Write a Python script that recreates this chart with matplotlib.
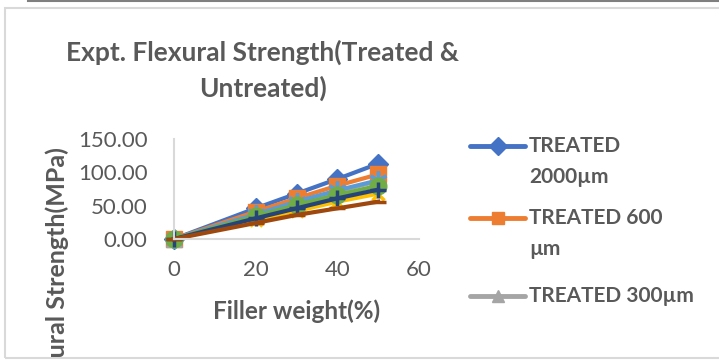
import matplotlib.pyplot as plt
from matplotlib.patches import Rectangle
from matplotlib.lines import Line2D

# data
filler = [0, 20, 30, 40, 50]
treated_2000 = [0, 46, 68, 90, 113]
treated_600 = [0, 41, 61, 80, 97]
treated_300 = [0, 36, 54, 71, 87]
series_4 = [0, 28, 42, 56, 68]
series_5 = [0, 37, 56, 73, 88]
series_6 = [0, 34, 51, 66, 80]
series_7 = [0, 31, 46, 61, 74]
series_8 = [0, 24, 36, 46, 56]
legend_labels = ["TREATED\n2000µm", "TREATED 600\nµm", "TREATED 300µm"]

plt.rcParams['font.family'] = ['Lato', 'DejaVu Sans']
grey_txt = '#595959'

fig = plt.figure(figsize=(7.19, 3.61), dpi=100)
# chart frame (cropped screenshot)
fig.patches.append(Rectangle((5/719, 3/361), 720/719, 350/361, transform=fig.transFigure,
                             fill=False, edgecolor='#d9d9d9', linewidth=1.5))
fig.add_artist(Line2D([28/719, 1], [360/361, 360/361], transform=fig.transFigure,
                      color='#7f7f7f', linewidth=1.5))

ax = fig.add_axes([174/719, 122/361, 245/719, 100/361])

styles = [
    (treated_2000, '#4472C4', 'D', 10),
    (treated_600, '#ED7D31', 's', 11),
    (treated_300, '#A5A5A5', '^', 11),
    (series_4, '#FFC000', 'x', 9),
    (series_5, '#5B9BD5', (6, 2, 0), 13),
    (series_6, '#70AD47', 'o', 12),
    (series_7, '#264478', '+', 12),
    (series_8, '#9E480E', '_', 11),
]
handles = []
for vals, col, mk, ms in styles:
    thin = mk in ('x', '+', '_') or isinstance(mk, tuple)
    ln, = ax.plot(filler, vals, color=col, marker=mk, markersize=ms, linewidth=3,
                  markeredgewidth=2.5 if thin else 1, markeredgecolor=col,
                  clip_on=False)
    handles.append(ln)

ax.set_xlim(0, 60)
ax.set_ylim(0, 150)
ax.set_xticks([0, 20, 40, 60])
ax.set_yticks([0, 50, 100, 150])
ax.set_yticklabels(['%.2f' % v for v in [0, 50, 100, 150]])
for s in ['top', 'right']:
    ax.spines[s].set_visible(False)
for s in ['left', 'bottom']:
    ax.spines[s].set_color('#d9d9d9')
    ax.spines[s].set_linewidth(1.5)
ax.tick_params(length=0, labelsize=16, colors=grey_txt)
ax.tick_params(axis='y', pad=19)
ax.tick_params(axis='x', pad=15)

ax.set_xlabel('Filler weight(%)', fontsize=17.5, fontweight='bold', color=grey_txt, labelpad=14)

fig.text(263/719, 1 - 52/361, 'Expt. Flexural Strength(Treated &', ha='center', va='center',
         fontsize=19, fontweight='bold', color=grey_txt)
fig.text(263/719, 1 - 88/361, 'Untreated)', ha='center', va='center',
         fontsize=19, fontweight='bold', color=grey_txt)

# the reference crop cuts this label off at the bottom of the chart frame
ylab = fig.text(57/719, 1 - 147/361, 'Flexural Strength(MPa)', ha='center', va='top',
                rotation=90, fontsize=18, fontweight='bold', color=grey_txt)
ylab.set_clip_path(Rectangle((0, 3/361), 1, 1, transform=fig.transFigure))
ylab.set_clip_on(True)

# legend, drawn by hand so the marker sits on the first text line
entry_y = [146, 218, 296]
for h, lab, y in zip(handles[:3], legend_labels, entry_y):
    fy = 1 - y/361
    fig.add_artist(Line2D([470/719, 525/719], [fy, fy], transform=fig.transFigure,
                          color=h.get_color(), linewidth=3.5, solid_capstyle='round'))
    fig.add_artist(Line2D([497.5/719], [fy], transform=fig.transFigure, color=h.get_color(),
                          marker=h.get_marker(), markersize=9, linestyle='none'))
    for k, part in enumerate(lab.split('\n')):
        fig.text(529/719, fy - k*31/361, part, ha='left', va='center', fontsize=15,
                 fontweight='bold', color=grey_txt)

fig.savefig('out.png', dpi=100)
